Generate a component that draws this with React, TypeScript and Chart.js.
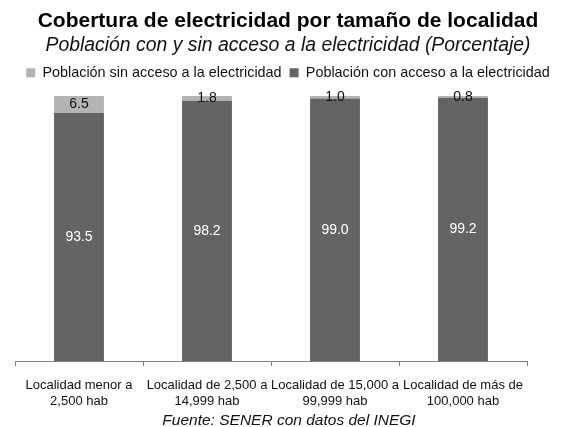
import React, { useEffect, useRef } from "react";
import { Chart, registerables } from "chart.js";

Chart.register(...registerables);

const categories: string[][] = [
  ["Localidad menor a", "2,500 hab"],
  ["Localidad de 2,500 a", "14,999 hab"],
  ["Localidad de 15,000 a", "99,999 hab"],
  ["Localidad de más de", "100,000 hab"],
];
const conAcceso: number[] = [93.5, 98.2, 99.0, 99.2];
const sinAcceso: number[] = [6.5, 1.8, 1.0, 0.8];

const FONT = "'Liberation Sans', Arial, sans-serif";

const labelPlugin = {
  id: "barLabels",
  afterDatasetsDraw(chart: any) {
    const ctx = chart.ctx;
    ctx.save();
    ctx.font = `14px ${FONT}`;
    ctx.textAlign = "center";
    ctx.textBaseline = "middle";
    chart.data.datasets.forEach((ds: any, di: number) => {
      const meta = chart.getDatasetMeta(di);
      meta.data.forEach((el: any, i: number) => {
        const v = ds.data[i];
        const y = (el.y + el.base) / 2;
        ctx.fillStyle = di === 0 ? "#ffffff" : "#111111";
        ctx.fillText(v.toFixed(1), el.x, y);
      });
    });
    ctx.restore();
  },
};

const footerPlugin = {
  id: "footerText",
  afterDraw(chart: any) {
    const ctx = chart.ctx;
    ctx.save();
    ctx.font = `italic 15.5px ${FONT}`;
    ctx.fillStyle = "#111111";
    ctx.textAlign = "center";
    ctx.textBaseline = "middle";
    ctx.fillText("Fuente: SENER con datos del INEGI", 289, 421);
    ctx.restore();
  },
};

export default function App() {
  const ref = useRef<HTMLCanvasElement | null>(null);
  useEffect(() => {
    document.body.style.margin = "0";
    const chart = new Chart(ref.current as HTMLCanvasElement, {
      type: "bar",
      data: {
        labels: categories,
        datasets: [
          {
            label: "Población con acceso a la electricidad",
            data: conAcceso,
            backgroundColor: "#646464",
            categoryPercentage: 1,
            barPercentage: 0.39,
          },
          {
            label: "Población sin acceso a la electricidad",
            data: sinAcceso,
            backgroundColor: "#b3b3b3",
            categoryPercentage: 1,
            barPercentage: 0.39,
          },
        ],
      },
      options: {
        animation: false,
        responsive: false,
        layout: { padding: { left: 15, right: 0, top: 0, bottom: 7 } },
        plugins: {
          title: {
            display: true,
            text: "Cobertura de electricidad por tamaño de localidad",
            color: "#000000",
            font: { family: FONT, size: 21, weight: "bold" },
            padding: { top: 9, bottom: 0 },
          },
          subtitle: {
            display: true,
            text: "Población con y sin acceso a la electricidad (Porcentaje)",
            color: "#111111",
            font: { family: FONT, size: 19.4, style: "italic" },
            padding: { top: 0, bottom: 0 },
          },
          legend: {
            display: true,
            reverse: true,
            labels: {
              color: "#111111",
              font: { family: FONT, size: 14.4 },
              boxWidth: 9,
              boxHeight: 9,
              padding: 8,
            },
          },
          tooltip: { enabled: false },
        },
        scales: {
          x: {
            stacked: true,
            grid: {
              display: true,
              drawOnChartArea: false,
              drawTicks: true,
              tickLength: 5,
              color: "#808080",
              offset: true,
            },
            border: { display: true, color: "#808080" },
            ticks: {
              color: "#111111",
              font: { family: FONT, size: 13, lineHeight: 1.23 },
              padding: 11,
              maxRotation: 0,
              autoSkip: false,
            },
          },
          xTop: {
            type: "category",
            position: "top",
            display: true,
            grid: { display: false },
            border: { display: false },
            ticks: { display: false },
            afterFit(scale: any) {
              scale.height = 6;
            },
          },
          y: {
            stacked: true,
            display: false,
            min: 0,
            max: 100,
          },
          y2: {
            position: "right",
            display: true,
            grid: { display: false },
            border: { display: false },
            ticks: { display: false },
            afterFit(scale: any) {
              scale.width = 34;
            },
          },
        },
      },
      plugins: [labelPlugin, footerPlugin],
    } as any);
    return () => chart.destroy();
  }, []);
  return (
    <div style={{ width: 561, height: 427 }}>
      <canvas ref={ref} width={561} height={427} style={{ display: "block" }} />
    </div>
  );
}
